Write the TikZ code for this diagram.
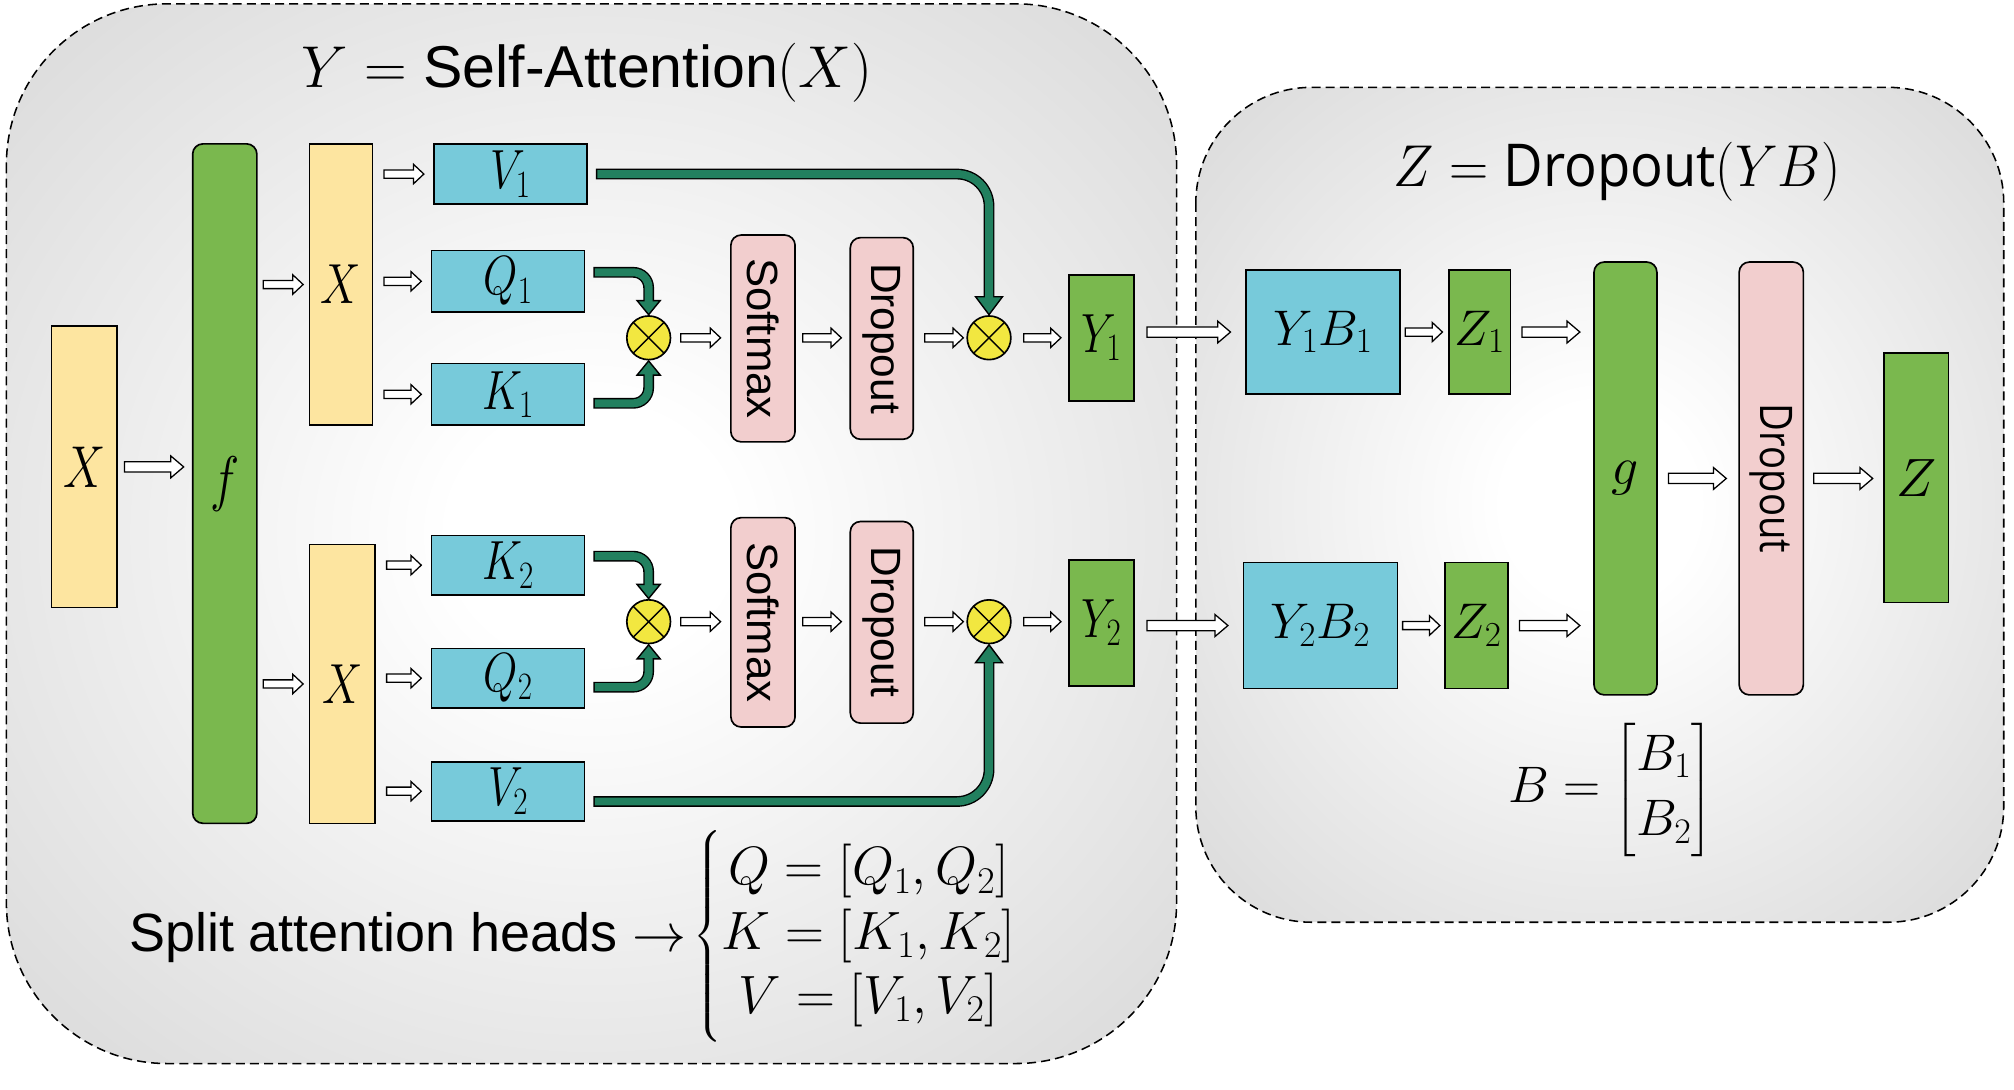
\RequirePackage{fix-cm}
\documentclass[tikz,border=0pt]{standalone}
\usepackage{amsmath}
\usepackage{graphicx}
\usepackage{fontspec}
\setmainfont{Liberation Sans}
\newfontfamily\osans{Open Sans}
\usetikzlibrary{calc}
\definecolor{cyel}{HTML}{FDE5A0}
\definecolor{cgrn}{HTML}{7AB84E}
\definecolor{cblu}{HTML}{77CADA}
\definecolor{cpnk}{HTML}{F2CECE}
\definecolor{cagr}{HTML}{22805F}
\definecolor{cotm}{HTML}{F2E740}
\pgfdeclareradialshading{panelshade}{\pgfpoint{0bp}{0bp}}{color(0bp)=(white); color(6bp)=(white); color(50bp)=(black!22)}
\newcommand\lbl[2]{\scalebox{0.8}[1]{\fontsize{#1}{#1}\selectfont$#2$}}
\newcommand\rlbl[2]{{\fontsize{#1}{#1}\selectfont$#2$}}
\newcommand\garr[3]{%
  \draw[gout, rounded corners=#1] #2;
  \filldraw[gtip] #3;
  \draw[gin, rounded corners=#1] #2;}
\tikzset{
  bx/.style={draw=black, line width=1.3pt, inner sep=0pt, outer sep=0pt},
  yb/.style={bx, fill=cyel},
  gb/.style={bx, fill=cgrn},
  bb/.style={bx, fill=cblu},
  pb/.style={bx, fill=cpnk, rounded corners=8pt},
  gr/.style={bx, fill=cgrn, rounded corners=8pt},
  mul/.style={circle, draw=black, line width=1.3pt, fill=cotm, minimum size=34pt, inner sep=0pt, outer sep=0pt,
    path picture={\draw[line width=1.1pt] (path picture bounding box.north west) -- (path picture bounding box.south east)
      (path picture bounding box.south west) -- (path picture bounding box.north east);}},
  panel/.style={draw=black, line width=1.2pt, dash pattern=on 7pt off 4pt, shading=panelshade},
  sarr/.style={draw=black, fill=white, line width=1pt, line join=miter,
    to path={let \p1=(\tikztostart), \p2=(\tikztotarget) in
      (\x1,\y1+3.2pt) -- (\x2-8pt,\y1+3.2pt) -- (\x2-8pt,\y1+7.5pt) -- (\x2,\y1) -- (\x2-8pt,\y1-7.5pt) -- (\x2-8pt,\y1-3.2pt) -- (\x1,\y1-3.2pt) -- cycle}},
  barr/.style={draw=black, fill=white, line width=1pt, line join=miter,
    to path={let \p1=(\tikztostart), \p2=(\tikztotarget) in
      (\x1,\y1+4pt) -- (\x2-10pt,\y1+4pt) -- (\x2-10pt,\y1+8.5pt) -- (\x2,\y1) -- (\x2-10pt,\y1-8.5pt) -- (\x2-10pt,\y1-4pt) -- (\x1,\y1-4pt) -- cycle}},
  gout/.style={draw=black, line width=8.4pt},
  gin/.style={draw=cagr, line width=6.2pt, shorten <=1.1pt},
  gtip/.style={fill=cagr, draw=black, line width=1.1pt, line join=miter},
}
\begin{document}
\begin{tikzpicture}[x=1pt, y=-1pt]
\useasboundingbox (0,0) rectangle (1568,848.6);
% panels
\shadedraw[panel, rounded corners=125pt] (5,3) rectangle (916,828);
\shadedraw[panel, rounded corners=90pt] (931,68) rectangle (1560,718);
% titles
\node[anchor=base] (T1) at (457,68) {\fontsize{46}{56}\selectfont $Y = \text{Self-Attention}(X)$};
\node[anchor=base] (T2) at (1259,145) {\scalebox{0.92}[1]{\osans\fontsize{46}{54}\selectfont $Z = \text{Dropout}(YB)$}};
% left panel boxes
\node[yb, minimum width=51, minimum height=219] (Xin) at (65.5,363.5) {\lbl{46}{X}};
\node[gr, minimum width=50, minimum height=529] (f) at (175,376.5) {\lbl{48}{f}};
\node[yb, minimum width=49, minimum height=219] (X1) at (265.5,221.5) {\lbl{44}{X}};
\node[yb, minimum width=51, minimum height=217] (X2) at (266.5,532.5) {\lbl{44}{X}};
\node[bb, minimum width=119, minimum height=47] (V1) at (397.5,135.5) {\lbl{43}{V_1}};
\node[bb, minimum width=119, minimum height=48] (Q1) at (395.5,219) {\lbl{43}{Q_1}};
\node[bb, minimum width=119, minimum height=48] (K1) at (395.5,307) {\lbl{43}{K_1}};
\node[bb, minimum width=119, minimum height=46] (K2) at (395.5,440) {\lbl{43}{K_2}};
\node[bb, minimum width=119, minimum height=46] (Q2) at (395.5,528) {\lbl{43}{Q_2}};
\node[bb, minimum width=119, minimum height=46] (V2) at (395.5,616) {\lbl{43}{V_2}};
\node[mul] (M1a) at (505,263) {};
\node[mul] (M2a) at (505,484) {};
\node[pb, minimum width=50, minimum height=161] (S1) at (594,263.5) {};
\node[pb, minimum width=50, minimum height=163] (S2) at (594,484.5) {};
\node[pb, minimum width=49, minimum height=157] (D1) at (686.5,263.5) {};
\node[pb, minimum width=49, minimum height=157] (D2) at (686.5,484.5) {};
\node[rotate=-90] (S1t) at (S1) {\fontsize{34}{34}\selectfont Softmax};
\node[rotate=-90] (S2t) at (S2) {\fontsize{34}{34}\selectfont Softmax};
\node[rotate=-90] (D1t) at (D1) {\fontsize{33}{33}\selectfont Dropout};
\node[rotate=-90] (D2t) at (D2) {\fontsize{33}{33}\selectfont Dropout};
\node[mul] (M1b) at (770,263) {};
\node[mul] (M2b) at (770,484) {};
\node[gb, minimum width=51, minimum height=98] (Y1) at (857.5,263) {\lbl{43}{Y_1}};
\node[gb, minimum width=51, minimum height=98] (Y2) at (857.5,485) {\lbl{43}{Y_2}};
% right panel boxes
\node[bb, minimum width=120, minimum height=97] (YB1) at (1030,258.5) {\rlbl{39}{Y_1B_1}};
\node[gb, minimum width=48, minimum height=97] (Z1) at (1152,258.5) {\rlbl{39}{Z_1}};
\node[bb, minimum width=120, minimum height=98] (YB2) at (1028,487) {\rlbl{39}{Y_2B_2}};
\node[gb, minimum width=49, minimum height=98] (Z2) at (1149.5,487) {\rlbl{39}{Z_2}};
\node[gr, minimum width=49, minimum height=337] (g) at (1265.5,372.5) {\rlbl{42}{g}};
\node[pb, minimum width=50, minimum height=337] (DR) at (1379,372.5) {};
\node[rotate=-90] (DRt) at (DR) {\scalebox{0.85}[1]{\osans\fontsize{35}{35}\selectfont Dropout}};
\node[gb, minimum width=50, minimum height=194] (Z) at (1492,372) {\rlbl{42}{Z}};
% formulas
\node[anchor=base west] (SP) at (97,741) {\fontsize{42}{50}\selectfont Split attention heads $\rightarrow$};
\node[anchor=west] (CS) at (536,729) {\fontsize{42}{50}\selectfont $\left\{\vcenter{\hbox{\rule{0pt}{166pt}}}\begin{array}{@{}c@{}} Q = [Q_1,Q_2]\\ K = [K_1,K_2]\\ V = [V_1,V_2]\end{array}\right.$};
\node (BM) at (1254,615) {\fontsize{40}{51}\selectfont $B = \begin{bmatrix} B_1\\ B_2\end{bmatrix}$};
% hollow arrows, left panel
\draw[barr] ($(Xin.east)+(6,0)$) to ($(Xin.east -| f.west)+(-7,0)$);
\draw[sarr] ($(f.east |- X1.west)+(5,0)$) to ($(X1.west)+(-5,0)$);
\draw[sarr] ($(f.east |- X2.west)+(5,0)$) to ($(X2.west)+(-5,0)$);
\draw[sarr] ($(X1.east |- V1.west)+(9,0)$) to ($(V1.west)+(-8,0)$);
\draw[sarr] ($(X1.east |- Q1.west)+(9,0)$) to ($(Q1.west)+(-8,0)$);
\draw[sarr] ($(X1.east |- K1.west)+(9,0)$) to ($(K1.west)+(-8,0)$);
\draw[sarr] ($(X2.east |- K2.west)+(9,0)$) to ($(K2.west)+(-8,0)$);
\draw[sarr] ($(X2.east |- Q2.west)+(9,0)$) to ($(Q2.west)+(-8,0)$);
\draw[sarr] ($(X2.east |- V2.west)+(9,0)$) to ($(V2.west)+(-8,0)$);
\draw[sarr] ($(M1a.east)+(8,0)$) to ($(M1a.east -| S1.west)+(-8,0)$);
\draw[sarr] ($(S1.east |- M1a)+(6,0)$) to ($(M1a -| D1.west)+(-7,0)$);
\draw[sarr] ($(D1.east |- M1b)+(9,0)$) to ($(M1b.west)+(-3,0)$);
\draw[sarr] ($(M1b.east)+(10,0)$) to ($(M1b -| Y1.west)+(-6,0)$);
\draw[sarr] ($(M2a.east)+(8,0)$) to ($(M2a.east -| S2.west)+(-8,0)$);
\draw[sarr] ($(S2.east |- M2a)+(6,0)$) to ($(M2a -| D2.west)+(-7,0)$);
\draw[sarr] ($(D2.east |- M2b)+(9,0)$) to ($(M2b.west)+(-3,0)$);
\draw[sarr] ($(M2b.east)+(10,0)$) to ($(M2b -| Y2.west)+(-6,0)$);
% hollow arrows, right panel
\draw[barr] ($(Y1.east |- YB1.west)+(10,0)$) to ($(YB1.west)+(-12,0)$);
\draw[barr] ($(Y2.east |- YB2.west)+(10,0)$) to ($(YB2.west)+(-12,0)$);
\draw[sarr] ($(YB1.east)+(4,0)$) to ($(Z1.west)+(-5,0)$);
\draw[sarr] ($(YB2.east)+(4,0)$) to ($(Z2.west)+(-4,0)$);
\draw[barr] ($(Z1.east)+(9,0)$) to ($(Z1.east -| g.west)+(-11,0)$);
\draw[barr] ($(Z2.east)+(9,0)$) to ($(Z2.east -| g.west)+(-11,0)$);
\draw[barr] ($(g.east)+(9,0)$) to ($(g.east -| DR.west)+(-10,0)$);
\draw[barr] ($(DR.east)+(8,0)$) to ($(DR.east -| Z.west)+(-9,0)$);
% green arrows
\garr{25pt}{($(V1.east)+(7,0)$) -| ($(M1b.north)+(0,-11)$)}
  {($(M1b.north)+(-10.5,-15)$) -- ($(M1b.north)+(10.5,-15)$) -- ($(M1b.north)+(0,-1)$) -- cycle}
\garr{12pt}{($(Q1.east)+(7,-7)$) -| ($(M1a.north)+(0,-9)$)}
  {($(M1a.north)+(-9,-12)$) -- ($(M1a.north)+(9,-12)$) -- ($(M1a.north)+(0,-1)$) -- cycle}
\garr{12pt}{($(K1.east)+(7,7)$) -| ($(M1a.south)+(0,9)$)}
  {($(M1a.south)+(-9,12)$) -- ($(M1a.south)+(9,12)$) -- ($(M1a.south)+(0,1)$) -- cycle}
\garr{12pt}{($(K2.east)+(7,-7)$) -| ($(M2a.north)+(0,-9)$)}
  {($(M2a.north)+(-9,-12)$) -- ($(M2a.north)+(9,-12)$) -- ($(M2a.north)+(0,-1)$) -- cycle}
\garr{12pt}{($(Q2.east)+(7,7)$) -| ($(M2a.south)+(0,9)$)}
  {($(M2a.south)+(-9,12)$) -- ($(M2a.south)+(9,12)$) -- ($(M2a.south)+(0,1)$) -- cycle}
\garr{25pt}{($(V2.east)+(7,8)$) -| ($(M2b.south)+(0,11)$)}
  {($(M2b.south)+(-10.5,15)$) -- ($(M2b.south)+(10.5,15)$) -- ($(M2b.south)+(0,1)$) -- cycle}
\end{tikzpicture}
\end{document}
